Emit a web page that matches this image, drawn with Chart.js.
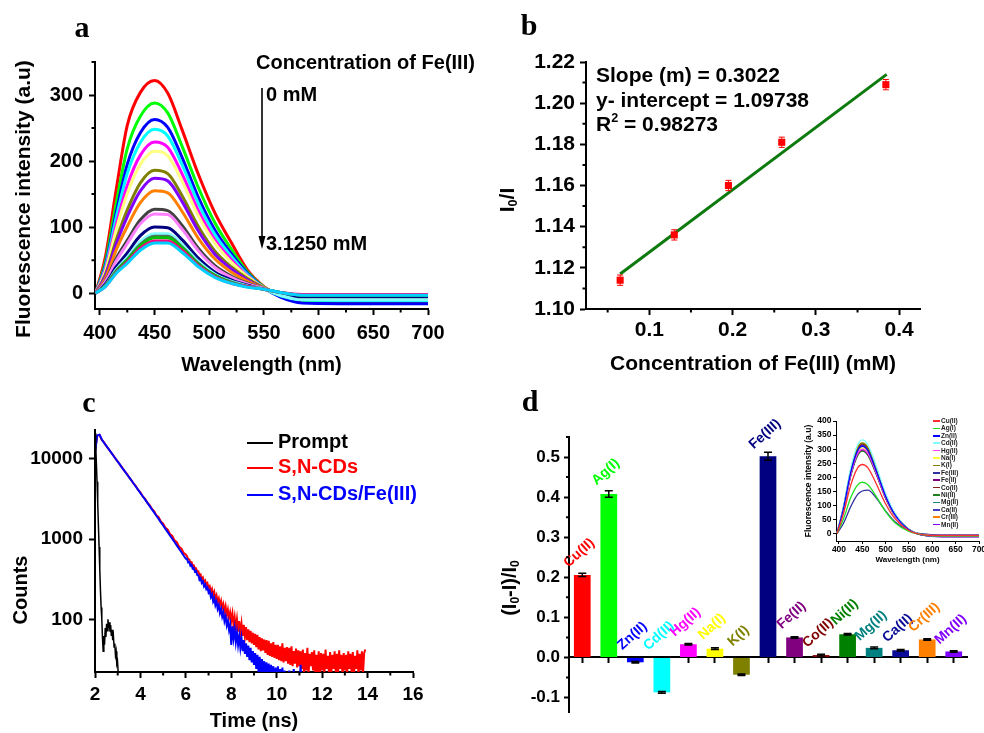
<!DOCTYPE html>
<html>
<head>
<meta charset="utf-8">
<script src="https://cdn.jsdelivr.net/npm/chart.js@4.4.1/dist/chart.umd.min.js"></script>
<style>
  body { margin: 0; background: #fff; }
  #page { position: relative; width: 984px; height: 733px; overflow: hidden; background: #fff;
          font-family: 'Liberation Sans', Arial, Helvetica, sans-serif; font-weight: bold; color: #000; }
  #page canvas, .t, .ln, svg { position: absolute; }
  .t { white-space: nowrap; line-height: 1; transform: translateY(-50%); }
  .c { transform: translate(-50%, -50%); }
  .v { transform: translate(-50%, -50%) rotate(-90deg); }
  .let { font-family: 'Liberation Serif', 'Times New Roman', serif; font-size: 30px; }
  sub { font-size: 0.6em; vertical-align: -0.25em; }
  sup { font-size: 0.6em; vertical-align: 0.7em; }
</style>
</head>
<body>
<div id="page">
  <canvas id="chartA" width="490" height="380" style="left:0;top:0"></canvas>
  <canvas id="chartB" width="494" height="380" style="left:490px;top:0"></canvas>
  <canvas id="chartC" width="490" height="353" style="left:0;top:380px"></canvas>
  <canvas id="chartD" width="494" height="353" style="left:490px;top:380px"></canvas>
  <canvas id="chartInset" width="204" height="170" style="left:790px;top:405px"></canvas>

  <div class="t c let" style="left:82px;top:27px">a</div>
  <div class="t c let" style="left:529px;top:25px">b</div>
  <div class="t c let" style="left:89px;top:402px">c</div>
  <div class="t c let" style="left:530px;top:401px">d</div>

  <!-- panel a notes -->
  <div class="t v" style="left:22px;top:199px;font-size:21px">Fluorescence intensity (a.u)</div>
  <div class="t" style="left:256px;top:62px;font-size:20px">Concentration of Fe(III)</div>
  <div class="t" style="left:266px;top:94px;font-size:20px">0 mM</div>
  <div class="t" style="left:266px;top:243px;font-size:20px">3.1250 mM</div>
  <svg width="14" height="170" style="left:255px;top:85px">
    <line x1="7" y1="3" x2="7" y2="154" stroke="#000" stroke-width="1.6"/>
    <polygon points="3.5,151 10.5,151 7,164" fill="#000"/>
  </svg>

  <!-- panel b notes -->
  <div class="t" style="left:596px;top:74px;font-size:21px">Slope (m) = 0.3022</div>
  <div class="t" style="left:596px;top:99px;font-size:21px">y- intercept = 1.09738</div>
  <div class="t" style="left:596px;top:123px;font-size:21px">R<sup>2</sup> = 0.98273</div>
  <div class="t v" style="left:508px;top:200px;font-size:21px">I<sub>0</sub>/I</div>

  <!-- panel c legend -->
  <div class="t v" style="left:20px;top:590px;font-size:20px">Counts</div>
  <div class="ln" style="left:247px;top:442px;width:26px;height:2px;background:#000"></div>
  <div class="t" style="left:278px;top:441px;font-size:20px">Prompt</div>
  <div class="ln" style="left:247px;top:467px;width:26px;height:2px;background:#ff0000"></div>
  <div class="t" style="left:278px;top:466px;font-size:20px;color:#ff0000">S,N-CDs</div>
  <div class="ln" style="left:247px;top:494px;width:26px;height:2px;background:#0000ff"></div>
  <div class="t" style="left:278px;top:493px;font-size:20px;color:#0000ff">S,N-CDs/Fe(III)</div>

  <!-- panel d -->
  <div class="t v" style="left:510px;top:588px;font-size:20px">(I<sub>0</sub>-I)/I<sub>0</sub></div>
</div>

<script>
const FONT = "'Liberation Sans', Arial, Helvetica, sans-serif";

// ---------- panel a : emission spectra vs Fe(III) ----------
const wavelengths = [396, 405, 415, 425, 437, 450, 462, 475, 490, 505, 520, 535, 550, 565, 585, 620, 700];
const fe01 = [0, 55, 158, 254, 304, 322, 303, 248, 180, 122, 77, 35, 10, -5, -13, -14, -14];
const fe02 = [0, 47, 137, 219, 268, 288, 273, 223, 160, 107, 67, 32, 9, -4, -11, -12, -12];
const fe03 = [0, 42, 123, 195, 243, 263, 251, 206, 145, 96, 60, 30, 8, -6, -15, -16, -16];
const fe04 = [0, 39, 115, 181, 228, 248, 238, 195, 136, 89, 56, 28, 8, -4, -10, -11, -11];
const fe05 = [0, 36, 104, 163, 209, 229, 221, 181, 125, 81, 51, 26, 8, -2, -8, -8, -8];
const fe06 = [0, 33, 97, 151, 195, 215, 208, 170, 117, 76, 47, 25, 8, -3, -9, -9, -9];
const fe07 = [0, 28, 81, 126, 167, 186, 181, 148, 101, 64, 40, 22, 8, -1, -6, -6, -6];
const fe08 = [0, 26, 75, 116, 155, 174, 170, 139, 94, 59, 37, 20, 7, 0, -5, -5, -5];
const fe09 = [0, 22, 66, 101, 137, 155, 152, 124, 83, 52, 32, 18, 7, -1, -6, -6, -6];
const fe10 = [0, 18, 53, 80, 111, 127, 125, 103, 68, 42, 26, 15, 7, 0, -4, -4, -4];
const fe11 = [0, 17, 49, 75, 105, 120, 119, 97, 64, 39, 24, 14, 7, 0, -4, -4, -4];
const fe12 = [0, 14, 40, 61, 87, 100, 99, 81, 53, 32, 20, 12, 6, -1, -6, -6, -6];
const fe13 = [0, 12, 36, 54, 78, 90, 90, 74, 48, 29, 18, 11, 6, -3, -10, -10, -10];
const fe14 = [0, 11, 34, 51, 74, 86, 86, 70, 45, 27, 17, 10, 6, 1, -3, -3, -3];
const fe15 = [0, 11, 33, 50, 72, 84, 84, 69, 44, 27, 16, 10, 6, 1, -3, -3, -3];
const fe16 = [0, 10, 31, 47, 68, 79, 79, 65, 42, 25, 15, 10, 6, 1, -2, -2, -2];
const fe17 = [0, 10, 30, 45, 65, 76, 76, 62, 40, 24, 15, 9, 6, 1, -3, -3, -3];
const feSpectra = [fe01, fe02, fe03, fe04, fe05, fe06, fe07, fe08, fe09, fe10, fe11, fe12, fe13, fe14, fe15, fe16, fe17];
const feColors = ['#ff0000', '#00ff00', '#0000ff', '#00ffff', '#ff00ff', '#ffff80', '#808000', '#8000ff', '#ff8000',
                  '#404040', '#ff80ff', '#000080', '#80ffff', '#507060', '#00c000', '#ff0080', '#00d0ff'];

// ---------- panel b : Stern-Volmer ----------
const concFe = [0.065, 0.130, 0.195, 0.259, 0.384];
const ratio = [1.114, 1.136, 1.160, 1.181, 1.209];
const ratioErr = [0.0025, 0.0025, 0.0025, 0.0025, 0.0025];
const fitX = [0.065, 0.385];
const fitY = [1.117, 1.214];

// ---------- panel c : decay curves ----------
const promptStart = 1.97, promptStep = 0.03;
const promptCounts = [10, 21000, 15000, 9000, 5200, 2800, 1500, 800, 420, 230, 140, 100, 58, 40, 62, 48, 78, 60, 88, 72,
  100, 78, 92, 70, 85, 62, 74, 55, 62, 45, 50, 36, 40, 28, 30, 22, 18, 12];
const headStart = 2.0, headStep = 0.1;
const redHead = [12500, 19600, 19900, 17300, 16100, 14500, 13400, 12100, 11200, 10100, 9350, 8450, 7800, 7050, 6550,
  5900, 5470, 4920, 4580, 4110, 3830, 3420, 3200, 2860, 2670, 2390, 2240, 1990, 1880, 1660, 1565, 1390, 1310, 1160,
  1100, 965, 915, 805, 765, 675, 640];
const blueHead = [11800, 19800, 20100, 17500, 15900, 14600, 13300, 12200, 11050, 10150, 9250, 8500, 7700, 7100, 6450,
  5930, 5400, 4950, 4500, 4120, 3750, 3430, 3130, 2850, 2600, 2370, 2160, 1960, 1790, 1620, 1480, 1340, 1225, 1110,
  1010, 920, 835, 760, 690, 625, 570];
const tailStart = 6.05, tailStep = 0.05;
const redTail = [612, 560, 558, 512, 515, 468, 470, 428, 432, 392,
  395, 352, 362, 318, 332, 292, 305, 268, 282, 244,
  258, 218, 238, 198, 220, 180, 199, 165, 182, 150,
  170, 138, 155, 124, 145, 112, 132, 103, 122, 96,
  118, 84, 106, 76, 100, 70, 95, 66, 88, 62,
  85, 60, 80, 55, 75, 52, 72, 50, 68, 48,
  66, 45, 64, 42, 60, 40, 58, 41, 56, 38,
  55, 36, 54, 35, 50, 34, 52, 33, 48, 32,
  48, 31, 46, 30, 50, 29, 44, 30, 45, 28,
  44, 27, 46, 26, 40, 28, 43, 25, 41, 26,
  40, 24, 42, 21, 38, 23, 44, 20, 37, 26,
  39, 23, 41, 20, 36, 22, 40, 19, 38, 23,
  37, 20, 42, 24, 35, 21, 39, 20, 36, 24,
  40, 21, 37, 20, 41, 24, 36, 19, 38, 23,
  36, 20, 40, 24, 37, 21, 39, 20, 35, 24,
  41, 20, 37, 23, 40, 21, 38, 42];
const blueTail = [570, 512, 520, 465, 478, 430, 436, 392, 398, 358,
  355, 312, 325, 285, 298, 258, 272, 238, 250, 216,
  228, 190, 205, 168, 184, 150, 166, 135, 150, 120,
  135, 108, 122, 95, 108, 84, 96, 74, 86, 48,
  82, 58, 76, 52, 68, 48, 62, 44, 58, 40,
  55, 37, 50, 34, 47, 31, 44, 29, 40, 27,
  38, 24, 36, 22, 34, 21, 32, 20, 30, 19,
  29, 18, 28, 17, 27, 16, 26, 15, 25, 15,
  26, 15, 24, 14, 25, 15, 23, 14, 22, 14,
  23, 14, 21, 14, 24, 13, 20, 14, 19, 13,
  27, 14, 20, 14];

// ---------- panel d : selectivity ----------
const ionNames = ['Cu(II)', 'Ag(I)', 'Zn(II)', 'Cd(II)', 'Hg(II)', 'Na(I)', 'K(I)', 'Fe(III)', 'Fe(II)', 'Co(II)',
                  'Ni(II)', 'Mg(II)', 'Ca(II)', 'Cr(III)', 'Mn(II)'];
const quench = [0.206, 0.408, -0.012, -0.087, 0.033, 0.022, -0.043, 0.502, 0.050, 0.006, 0.058, 0.024, 0.018, 0.045, 0.015];
const quenchErr = [0.004, 0.008, 0.002, 0.002, 0.002, 0.002, 0.002, 0.010, 0.002, 0.002, 0.002, 0.002, 0.002, 0.002, 0.002];
const ionColors = ['#ff0000', '#00ff00', '#0000ff', '#00ffff', '#ff00ff', '#ffff00', '#808000', '#000080', '#800080',
                   '#800000', '#008000', '#008080', '#0a0a96', '#ff8000', '#8000ff'];

// inset spectra
const insetWl = [396, 410, 425, 440, 450, 462, 480, 500, 520, 550, 580, 620, 700];
const inCu = [2, 74, 172, 234, 246, 234, 177, 106, 54, 12, -3, -6, -6];
const inAg = [2, 55, 128, 174, 183, 174, 132, 79, 40, 9, -3, -8, -8];
const inZn = [3, 93, 217, 295, 310, 295, 223, 133, 68, 15, -4, -7, -7];
const inCd = [3, 100, 233, 316, 333, 316, 240, 143, 73, 16, -4, -8, -8];
const inHg = [3, 90, 210, 285, 300, 285, 216, 129, 66, 15, -3, -5, -5];
const inNa = [3, 92, 214, 290, 305, 290, 220, 131, 67, 15, -3, -6, -6];
const inK = [3, 97, 225, 306, 322, 306, 232, 138, 71, 16, -3, -5, -5];
const inFe3 = [2, 39, 96, 140, 152, 155, 127, 81, 43, 12, 0, -3, -3];
const inFe2 = [3, 89, 209, 283, 298, 283, 215, 128, 66, 15, -4, -9, -9];
const inCo = [3, 95, 223, 302, 318, 302, 229, 137, 70, 16, -4, -8, -8];
const inNi = [3, 88, 205, 278, 293, 278, 211, 126, 64, 15, -3, -6, -6];
const inMg = [3, 89, 207, 280, 295, 280, 212, 127, 65, 15, -3, -7, -7];
const inCa = [3, 94, 218, 296, 312, 296, 225, 134, 69, 16, -4, -8, -8];
const inCr = [3, 89, 207, 281, 296, 281, 213, 127, 65, 15, -3, -6, -6];
const inMn = [3, 95, 221, 299, 315, 299, 227, 135, 69, 16, -4, -10, -10];
const insetSpectra = [inCu, inAg, inZn, inCd, inHg, inNa, inK, inFe3, inFe2, inCo, inNi, inMg, inCa, inCr, inMn];
const insetColors = ['#ff3030', '#20e020', '#0000ff', '#80ffff', '#ff40ff', '#ffff40', '#808000', '#3030a0', '#800080',
                     '#802020', '#208020', '#208080', '#4040c0', '#ff8000', '#8000ff'];

// ---------- helpers ----------
Chart.defaults.font.family = FONT;
Chart.defaults.color = '#000';
Chart.defaults.animation = false;
Chart.defaults.plugins.legend.display = false;
Chart.defaults.plugins.tooltip.enabled = false;

// short ticks between the labelled ones
const minorTicks = {
  id: 'minorTicks',
  afterDraw(chart, args, opts) {
    const { ctx, chartArea } = chart;
    ctx.save();
    ctx.strokeStyle = '#000';
    ctx.lineWidth = opts.width || 2;
    ['x', 'y'].forEach(id => {
      const m = opts[id];
      if (!m) return;
      const s = chart.scales[id];
      ctx.beginPath();
      for (let k = 0; ; k++) {
        const v = m.from + k * m.step;
        if (v > m.to + m.step * 1e-6) break;
        const p = s.getPixelForValue(v);
        if (id === 'x') { ctx.moveTo(p, chartArea.bottom); ctx.lineTo(p, chartArea.bottom + m.len); }
        else { ctx.moveTo(chartArea.left, p); ctx.lineTo(chartArea.left - m.len, p); }
      }
      ctx.stroke();
    });
    ctx.restore();
  }
};

const errorBars = {
  id: 'errorBars',
  afterDatasetsDraw(chart) {
    const ctx = chart.ctx;
    const ys = chart.scales.y;
    chart.data.datasets.forEach((ds, i) => {
      if (!ds.errors) return;
      const meta = chart.getDatasetMeta(i);
      ctx.save();
      ctx.strokeStyle = ds.errorColor;
      ctx.lineWidth = ds.errorWidth;
      meta.data.forEach((el, j) => {
        const d = ds.data[j];
        const v = typeof d === 'object' ? d.y : d;
        const top = ys.getPixelForValue(v + ds.errors[j]);
        const bot = ys.getPixelForValue(v - ds.errors[j]);
        const w = ds.errorCap;
        ctx.beginPath();
        ctx.moveTo(el.x, top); ctx.lineTo(el.x, bot);
        ctx.moveTo(el.x - w, top); ctx.lineTo(el.x + w, top);
        ctx.moveTo(el.x - w, bot); ctx.lineTo(el.x + w, bot);
        ctx.stroke();
      });
      ctx.restore();
    });
  }
};

const barLabels = {
  id: 'barLabels',
  afterDatasetsDraw(chart, args, opts) {
    if (!opts.show) return;
    const ctx = chart.ctx;
    const meta = chart.getDatasetMeta(0);
    meta.data.forEach((el, j) => {
      const top = Math.min(el.y, el.base);
      ctx.save();
      ctx.translate(el.x - 3, top - 22);
      ctx.rotate(-42 * Math.PI / 180);
      ctx.fillStyle = ionColors[j];
      ctx.font = 'bold 14px ' + FONT;
      ctx.textAlign = 'center';
      ctx.textBaseline = 'middle';
      ctx.fillText(chart.data.labels[j], 0, 0);
      ctx.restore();
    });
  }
};

Chart.register(minorTicks, errorBars, barLabels);

function axis(o) {
  const cfg = {
    type: o.type || 'linear',
    position: o.position,
    offset: !!o.offset,
    border: { display: true, color: '#000', width: o.bw || 2 },
    grid: { display: true, drawOnChartArea: false, drawTicks: true, offset: false,
            tickLength: o.tl, tickWidth: o.bw || 2, tickColor: '#000' },
    ticks: { display: o.labels !== false, color: '#000', padding: o.pad, maxRotation: 0, autoSkip: false,
             font: { family: FONT, size: o.size, weight: 'bold' } },
    title: { display: !!o.title, text: o.title || '', color: '#000', padding: o.tpad || 0,
             font: { family: FONT, size: o.tsize || o.size, weight: 'bold' } }
  };
  if (o.min !== undefined) cfg.min = o.min;
  if (o.max !== undefined) cfg.max = o.max;
  if (o.fmt) cfg.ticks.callback = o.fmt;
  if (o.ticks) cfg.afterBuildTicks = s => { s.ticks = o.ticks.map(v => ({ value: v })); };
  if (o.fit) cfg.afterFit = s => { if (s.isHorizontal()) s.height = o.fit; else s.width = o.fit; };
  return cfg;
}

function pts(xs, ys) { return ys.map((y, i) => ({ x: xs[i], y: y })); }
function channels(start, step, counts) { return counts.map((c, i) => ({ x: +(start + i * step).toFixed(3), y: c })); }

// ---------- panel a ----------
new Chart(document.getElementById('chartA'), {
  type: 'line',
  data: {
    datasets: feSpectra.map((ys, i) => ({
      data: pts(wavelengths, ys), borderColor: feColors[i], borderWidth: 3, pointRadius: 0,
      cubicInterpolationMode: 'monotone', order: -i
    }))
  },
  options: {
    responsive: false, devicePixelRatio: 1,
    layout: { padding: { top: 62, right: 62, left: 0, bottom: 0 } },
    scales: {
      x: axis({ position: 'bottom', min: 395.5, max: 700, ticks: [400, 450, 500, 550, 600, 650, 700], tl: 6, pad: 6,
                size: 20, fit: 71, title: 'Wavelength (nm)', tpad: { top: 0, bottom: 3 }, fmt: v => String(v) }),
      y: axis({ position: 'left', min: -24, max: 350, ticks: [0, 100, 200, 300], tl: 6, pad: 6, size: 20, fit: 95,
                fmt: v => String(v) })
    },
    plugins: { minorTicks: { x: { from: 425, to: 675, step: 50, len: 3.5 }, y: { from: 50, to: 350, step: 100, len: 3.5 } } }
  }
});

// ---------- panel b ----------
new Chart(document.getElementById('chartB'), {
  type: 'scatter',
  data: {
    datasets: [
      { data: pts(concFe, ratio), pointStyle: 'rect', pointRadius: 5, backgroundColor: '#ff0000', borderWidth: 0,
        errors: ratioErr, errorColor: '#ff0000', errorWidth: 1, errorCap: 3 },
      { data: pts(fitX, fitY), showLine: true, borderColor: '#0d7a0d', borderWidth: 3, pointRadius: 0 }
    ]
  },
  options: {
    responsive: false, devicePixelRatio: 1,
    layout: { padding: { top: 62, right: 64, left: 0, bottom: 0 } },
    scales: {
      x: axis({ position: 'bottom', min: 0.024, max: 0.425, ticks: [0.1, 0.2, 0.3, 0.4], tl: 6, pad: 3, size: 21, fit: 71,
                title: 'Concentration of Fe(III) (mM)', tpad: { top: 0, bottom: 3 }, fmt: v => v.toFixed(1) }),
      y: axis({ position: 'left', min: 1.10, max: 1.22, ticks: [1.10, 1.12, 1.14, 1.16, 1.18, 1.20, 1.22], tl: 6, pad: 5,
                size: 21, fit: 96, fmt: v => v.toFixed(2) })
    },
    plugins: { minorTicks: { x: { from: 0.05, to: 0.35, step: 0.1, len: 3.5 }, y: { from: 1.11, to: 1.21, step: 0.02, len: 3.5 } } }
  }
});

// ---------- panel c ----------
new Chart(document.getElementById('chartC'), {
  type: 'line',
  data: {
    datasets: [
      { data: channels(promptStart, promptStep, promptCounts), borderColor: '#000', borderWidth: 1.5, pointRadius: 0 },
      { data: channels(headStart, headStep, blueHead).concat(channels(tailStart, tailStep, blueTail)),
        borderColor: '#0000ff', borderWidth: 2, pointRadius: 0 },
      { data: channels(headStart, headStep, redHead).concat(channels(tailStart, tailStep, redTail)),
        borderColor: '#ff0000', borderWidth: 2, pointRadius: 0 }
    ]
  },
  options: {
    responsive: false, devicePixelRatio: 1,
    layout: { padding: { top: 50, right: 77, left: 0, bottom: 0 } },
    scales: {
      x: axis({ type: 'linear', position: 'bottom', min: 2, max: 16, ticks: [2, 4, 6, 8, 10, 12, 14, 16], tl: 6, pad: 5,
                size: 19, fit: 61, title: 'Time (ns)', tsize: 20, tpad: { top: 0, bottom: 0 }, fmt: v => String(v) }),
      y: axis({ type: 'logarithmic', position: 'left', min: 22, max: 23000, ticks: [100, 1000, 10000], tl: 6, pad: 6,
                size: 19, fit: 95, fmt: v => String(v) })
    },
    plugins: { minorTicks: { x: { from: 3, to: 15, step: 2, len: 3.5 } } }
  }
});

// ---------- panel d ----------
new Chart(document.getElementById('chartD'), {
  type: 'bar',
  data: {
    labels: ionNames,
    datasets: [{ data: quench, backgroundColor: ionColors, borderWidth: 0, barPercentage: 0.63, categoryPercentage: 1,
                 errors: quenchErr, errorColor: '#000', errorWidth: 1.5, errorCap: 4 }]
  },
  options: {
    responsive: false, devicePixelRatio: 1,
    layout: { padding: { top: 57, right: 17, left: 0, bottom: 21 } },
    scales: {
      x: axis({ type: 'category', position: { y: 0 }, offset: true, tl: 5, pad: 0, size: 10, labels: false }),
      y: axis({ position: 'left', min: -0.136, max: 0.55, ticks: [-0.1, 0, 0.1, 0.2, 0.3, 0.4, 0.5], tl: 5, pad: 4,
                size: 17, fit: 79, fmt: v => v.toFixed(1) })
    },
    plugins: { barLabels: { show: true }, minorTicks: { y: { from: -0.05, to: 0.55, step: 0.1, len: 3 } } }
  }
});

// ---------- inset ----------
new Chart(document.getElementById('chartInset'), {
  type: 'line',
  data: {
    datasets: insetSpectra.map((ys, i) => ({
      data: pts(insetWl, ys), borderColor: insetColors[i], borderWidth: 1.3, pointRadius: 0,
      cubicInterpolationMode: 'monotone'
    }))
  },
  options: {
    responsive: false, devicePixelRatio: 1,
    layout: { padding: { top: 16, right: 15, left: 0, bottom: 0 } },
    scales: {
      x: axis({ position: 'bottom', min: 393.6, max: 700, ticks: [400, 450, 500, 550, 600, 650, 700], tl: 3, pad: 1,
                size: 8.5, bw: 1, fit: 34, title: 'Wavelength (nm)', tsize: 8, tpad: { top: 0, bottom: 10 }, fmt: v => String(v) }),
      y: axis({ position: 'left', min: -25, max: 400, ticks: [0, 50, 100, 150, 200, 250, 300, 350, 400], tl: 3, pad: 1.5,
                size: 8.5, bw: 1, fit: 46, title: 'Fluorescence intensity (a.u)', tpad: { top: 14, bottom: 0 }, fmt: v => String(v) })
    }
  }
});

// inset legend
const page = document.getElementById('page');
ionNames.forEach((name, i) => {
  const y = 421 + i * 7.4;
  const ln = document.createElement('div');
  ln.className = 'ln';
  ln.style.cssText = 'left:933px;top:' + (y - 0.75) + 'px;width:7px;height:1.5px;background:' + insetColors[i];
  const tx = document.createElement('div');
  tx.className = 't';
  tx.style.cssText = 'left:941px;top:' + y + 'px;font-size:6.5px;color:#222';
  tx.textContent = name;
  page.append(ln, tx);
});
</script>
</body>
</html>
